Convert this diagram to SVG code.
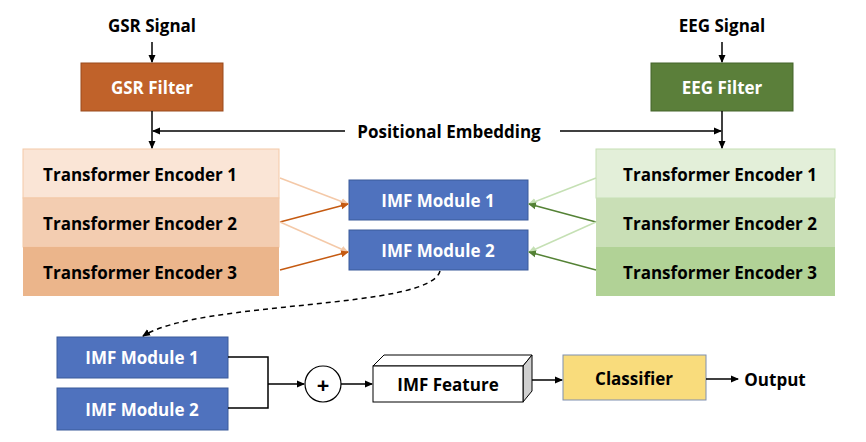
<svg xmlns="http://www.w3.org/2000/svg" width="866" height="442" viewBox="0 0 866 442">
<defs>
<marker id="ab" markerWidth="8" markerHeight="8" refX="7" refY="4" orient="auto" markerUnits="userSpaceOnUse"><path d="M0,0.5 L8,4 L0,7.5 Z" fill="#000"/></marker>
<marker id="ao" markerWidth="8" markerHeight="8" refX="7" refY="4" orient="auto" markerUnits="userSpaceOnUse"><path d="M0,0.5 L8,4 L0,7.5 Z" fill="#c55a11"/></marker>
<marker id="alo" markerWidth="8" markerHeight="8" refX="7" refY="4" orient="auto" markerUnits="userSpaceOnUse"><path d="M0,0.5 L8,4 L0,7.5 Z" fill="#f4c9a8"/></marker>
<marker id="ag" markerWidth="8" markerHeight="8" refX="7" refY="4" orient="auto" markerUnits="userSpaceOnUse"><path d="M0,0.5 L8,4 L0,7.5 Z" fill="#548235"/></marker>
<marker id="alg" markerWidth="8" markerHeight="8" refX="7" refY="4" orient="auto" markerUnits="userSpaceOnUse"><path d="M0,0.5 L8,4 L0,7.5 Z" fill="#c5e0b4"/></marker>
</defs>
<style>
text{font-family:"Open Sans","Liberation Sans",sans-serif;font-weight:bold;text-anchor:middle;dominant-baseline:central}
.t{font-size:17px;fill:#000}
.w{font-size:17px;fill:#fff}
.imf{fill:#4f72be;stroke:#3b5a9a;stroke-width:1}
.k{stroke:#000;stroke-width:1.5;fill:none}
</style>
<rect width="866" height="442" fill="#fff"/>
<g id="labels">
<text class="t" x="152" y="25">GSR Signal</text>
<text class="t" x="722" y="25">EEG Signal</text>
<text class="t" x="449" y="131">Positional Embedding</text>
<text class="t" x="775" y="379">Output</text>
</g>
<g id="gsr-filter"><rect x="81" y="63" width="142" height="48" fill="#c0622a" stroke="#9a4a1c"/><text class="w" x="152" y="87">GSR Filter</text></g>
<g id="eeg-filter"><rect x="651" y="63" width="142" height="48" fill="#5b7f3a" stroke="#45642a"/><text class="w" x="722" y="87">EEG Filter</text></g>
<g id="gsr-enc">
<rect x="23" y="149" width="256" height="49" fill="#fae5d6" stroke="#f4c9a8"/><text class="t" x="140" y="174">Transformer Encoder 1</text>
<rect x="23" y="198" width="256" height="49" fill="#f3cdb1" stroke="#f4c9a8"/><text class="t" x="140" y="223">Transformer Encoder 2</text>
<rect x="23" y="247" width="256" height="49" fill="#ebb58b"/><text class="t" x="140" y="272">Transformer Encoder 3</text>
</g>
<g id="eeg-enc">
<rect x="596" y="149" width="239" height="49" fill="#e3efd9" stroke="#c5e0b4"/><text class="t" x="720" y="174">Transformer Encoder 1</text>
<rect x="596" y="198" width="239" height="49" fill="#c9dfb6"/><text class="t" x="720" y="223">Transformer Encoder 2</text>
<rect x="596" y="247" width="239" height="49" fill="#b1d296"/><text class="t" x="720" y="272">Transformer Encoder 3</text>
</g>
<g id="imf1"><rect class="imf" x="349" y="180" width="179" height="40"/><text class="w" x="438" y="200">IMF Module 1</text></g>
<g id="imf2"><rect class="imf" x="349" y="230" width="179" height="40"/><text class="w" x="438" y="250">IMF Module 2</text></g>
<g id="imf1b"><rect class="imf" x="57" y="337" width="171" height="41"/><text class="w" x="142" y="357">IMF Module 1</text></g>
<g id="imf2b"><rect class="imf" x="57" y="388" width="171" height="42"/><text class="w" x="142" y="409">IMF Module 2</text></g>
<g id="plus"><circle cx="323" cy="384" r="18" fill="#fff" stroke="#000" stroke-width="1.2"/><text x="323" y="384" style="font-size:22px">+</text></g>
<g id="feature">
<path d="M373,366 L384,355 L532,355 L523,366 Z" fill="#fff" stroke="#000"/>
<path d="M523,366 L532,355 L532,391 L523,402 Z" fill="#d0d0d0" stroke="#000"/>
<rect x="373" y="366" width="150" height="36" fill="#fff" stroke="#000"/>
<text class="t" x="448" y="384">IMF Feature</text>
</g>
<g id="classifier"><rect x="563" y="355" width="143" height="45" fill="#f9dc7c" stroke="#7f8fb0"/><text class="t" x="634" y="378">Classifier</text></g>
<g id="connectors">
<line class="k" x1="152" y1="42" x2="152" y2="62" marker-end="url(#ab)"/>
<line class="k" x1="722" y1="42" x2="722" y2="62" marker-end="url(#ab)"/>
<line class="k" x1="152" y1="111" x2="152" y2="148" marker-end="url(#ab)"/>
<line class="k" x1="722" y1="111" x2="722" y2="148" marker-end="url(#ab)"/>
<line class="k" x1="345" y1="131" x2="153" y2="131" marker-end="url(#ab)"/>
<line class="k" x1="560" y1="131" x2="721" y2="131" marker-end="url(#ab)"/>
<line x1="280" y1="178" x2="348" y2="204" stroke="#f4c9a8" stroke-width="1.5" marker-end="url(#alo)"/>
<line x1="280" y1="222" x2="348" y2="204" stroke="#c55a11" stroke-width="1.5" marker-end="url(#ao)"/>
<line x1="280" y1="222" x2="348" y2="252" stroke="#f4c9a8" stroke-width="1.5" marker-end="url(#alo)"/>
<line x1="280" y1="270" x2="348" y2="252" stroke="#c55a11" stroke-width="1.5" marker-end="url(#ao)"/>
<line x1="596" y1="178" x2="529" y2="204" stroke="#c5e0b4" stroke-width="1.5" marker-end="url(#alg)"/>
<line x1="596" y1="222" x2="529" y2="204" stroke="#548235" stroke-width="1.5" marker-end="url(#ag)"/>
<line x1="596" y1="222" x2="529" y2="252" stroke="#c5e0b4" stroke-width="1.5" marker-end="url(#alg)"/>
<line x1="596" y1="270" x2="529" y2="252" stroke="#548235" stroke-width="1.5" marker-end="url(#ag)"/>
<path d="M440,271 C430,310 200,300 143,336" fill="none" stroke="#000" stroke-width="1.5" stroke-dasharray="5,4" marker-end="url(#ab)"/>
<path class="k" d="M228,357 H268 V408 H228"/>
<line class="k" x1="268" y1="384" x2="304" y2="384" marker-end="url(#ab)"/>
<line class="k" x1="341" y1="384" x2="372" y2="384" marker-end="url(#ab)"/>
<line class="k" x1="532" y1="380" x2="562" y2="380" marker-end="url(#ab)"/>
<line class="k" x1="706" y1="379" x2="738" y2="379" marker-end="url(#ab)"/>
</g>
</svg>
